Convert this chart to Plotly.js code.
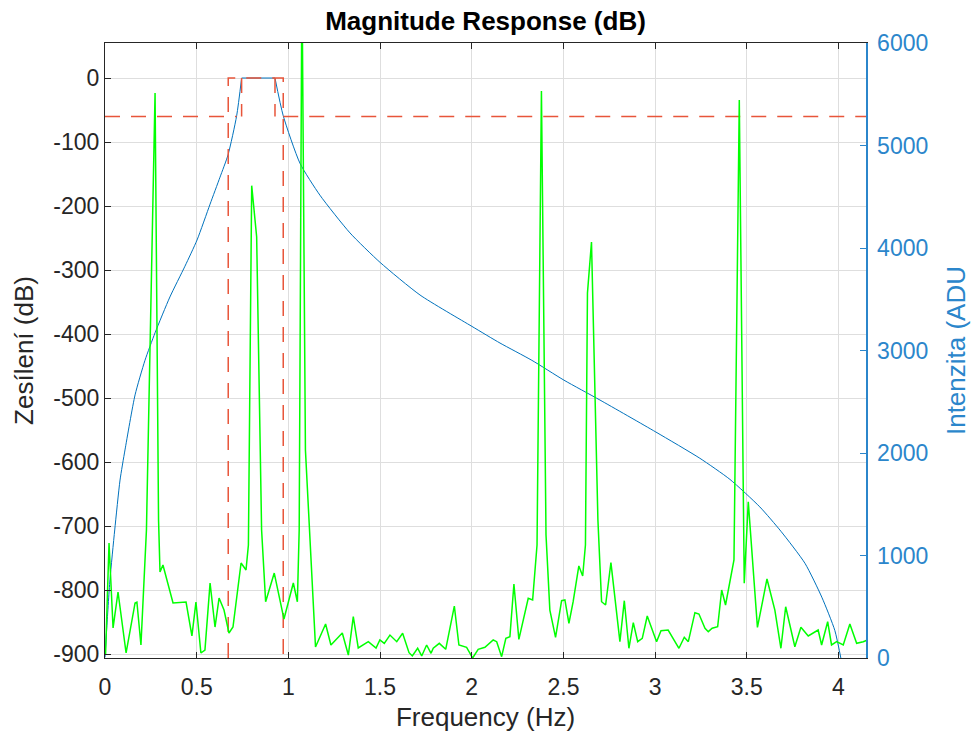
<!DOCTYPE html>
<html>
<head>
<meta charset="utf-8">
<script src="https://cdn.plot.ly/plotly-3.0.1.min.js"></script>
<style>html,body{margin:0;padding:0;background:#fff;}#chart{width:975px;height:740px;}</style>
</head>
<body>
<div id="chart"></div>
<script>
// Magnitude response of the filter (dB, left axis)
const respFreq = [0.000,0.009,0.027,0.053,0.082,0.109,0.164,0.218,0.273,0.354,0.436,0.502,0.573,0.627,0.671,0.718,0.745,
  0.927,0.972,1.063,1.172,1.336,1.500,1.718,2.001,2.154,2.328,2.503,2.699,3.004,3.244,3.408,3.571,3.686,3.817,3.909,3.980,4.017];
const respDb = [-905,-862,-784,-706,-628,-581,-495,-441,-398,-342,-294,-253,-197,-155,-120,-59,0,
  0,-59,-133,-183,-242,-288,-339,-388,-414,-441,-472,-503,-553,-594,-627,-670,-708,-758,-811,-863,-912];

// Signal spectrum (ADU, right axis)
const specFreq = [0.003,0.022,0.044,0.071,0.115,0.164,0.174,0.196,0.226,0.273,0.292,0.300,0.316,0.371,0.442,0.474,0.496,0.523,0.545,0.573,
  0.600,0.622,0.649,0.676,0.698,0.742,0.769,0.782,0.800,0.827,0.854,0.876,0.923,0.949,0.976,1.027,1.049,1.059,1.074,1.093,
  1.148,1.203,1.232,1.294,1.327,1.354,1.381,1.436,1.478,1.499,1.523,1.554,1.591,1.623,1.658,1.676,1.705,1.727,1.754,1.778,
  1.790,1.823,1.858,1.905,1.930,1.972,2.005,2.035,2.072,2.117,2.136,2.163,2.186,2.208,2.230,2.257,2.308,2.332,2.356,2.380,
  2.405,2.426,2.457,2.490,2.508,2.530,2.553,2.584,2.605,2.620,2.631,2.653,2.688,2.708,2.730,2.759,2.808,2.832,2.857,2.881,
  2.905,2.930,2.957,3.008,3.032,3.071,3.130,3.159,3.181,3.217,3.239,3.272,3.290,3.311,3.341,3.363,3.384,3.430,3.459,3.486,
  3.508,3.558,3.610,3.653,3.686,3.712,3.762,3.795,3.835,3.889,3.908,3.941,3.962,3.990,4.026,4.062,4.099,4.135,4.160];
const specAdu = [29,1122,293,644,49,537,546,127,1249,5512,1346,839,907,537,546,215,546,49,78,732,
  302,585,468,244,302,927,859,1102,4608,4110,1249,549,829,615,380,732,549,1249,6700,2029,
  107,332,127,244,29,403,98,159,98,176,143,224,159,241,52,20,95,20,127,46,
  95,143,85,507,127,104,0,85,104,176,159,13,192,208,722,182,582,566,1102,5532,
  1200,468,202,559,566,339,549,898,800,1102,3561,4058,1346,549,517,930,159,559,95,344,
  159,192,410,159,266,273,95,202,159,442,429,290,257,290,305,663,517,956,5444,729,
  1525,298,771,468,95,500,110,300,215,273,127,354,127,159,127,332,143,159,176];

// Filter specification mask (dB), segments separated by null
const maskFreq = [0, 0.718, null, 0.672, 0.672, 0.972, 0.972, null, 0.745, 0.745, null, 0.927, 0.927, null, 0.972, 4.15];
const maskDb   = [-60, -60, null, -906, 0, 0, -906, null, 0, -60, null, 0, -60, null, -60, -60];

const xTicks = [0, 0.5, 1, 1.5, 2, 2.5, 3, 3.5, 4];
const yTicks = [-900, -800, -700, -600, -500, -400, -300, -200, -100, 0];
const y2Ticks = [0, 1000, 2000, 3000, 4000, 5000, 6000];

const FONT = 'Liberation Sans, Arial, Helvetica, sans-serif';
const AX = '#262626';
const BLUE = '#0072bd';
const BLUEAX = '#2b86cb';

// passband edges split the response into rising flank, flat top and falling flank
const iTop1 = 16, iTop2 = 17;
const respLine = {color: BLUE, width: 1};
const traces = [
  {x: respFreq.slice(0, iTop1 + 1), y: respDb.slice(0, iTop1 + 1), type: 'scatter', mode: 'lines', yaxis: 'y',
   line: Object.assign({shape: 'spline', smoothing: 0.6}, respLine), hoverinfo: 'skip'},
  {x: respFreq.slice(iTop1, iTop2 + 1), y: respDb.slice(iTop1, iTop2 + 1), type: 'scatter', mode: 'lines', yaxis: 'y',
   line: respLine, hoverinfo: 'skip'},
  {x: respFreq.slice(iTop2), y: respDb.slice(iTop2), type: 'scatter', mode: 'lines', yaxis: 'y',
   line: Object.assign({shape: 'spline', smoothing: 0.6}, respLine), hoverinfo: 'skip'},
  {x: maskFreq, y: maskDb, type: 'scatter', mode: 'lines', yaxis: 'y', connectgaps: false,
   line: {color: '#e8553a', width: 1.5, dash: '15px,11px'}, hoverinfo: 'skip'},
  {x: specFreq, y: specAdu, type: 'scatter', mode: 'lines', yaxis: 'y2',
   line: {color: '#00ff00', width: 1.5}, hoverinfo: 'skip'}
];

const layout = {
  width: 975, height: 740,
  margin: {l: 105, r: 109, t: 43, b: 82, pad: 0},
  paper_bgcolor: '#ffffff', plot_bgcolor: '#ffffff',
  showlegend: false,
  font: {family: FONT, size: 24, color: AX},
  title: {text: '<b>Magnitude Response (dB)</b>', font: {family: FONT, size: 26, color: '#000'},
          x: 0.5, xref: 'paper', xanchor: 'center', y: 1 - 21/740, yref: 'container', yanchor: 'middle'},
  xaxis: {
    range: [0, 4.15], tickvals: xTicks, ticktext: xTicks.map(String),
    ticks: 'inside', ticklen: 6, tickcolor: AX, tickwidth: 1,
    showline: true, linecolor: AX, linewidth: 1, mirror: 'ticks',
    showgrid: true, gridcolor: '#dedede', gridwidth: 1, zeroline: false,
    ticklabelstandoff: 8,
    tickfont: {family: FONT, size: 23, color: AX},
    title: {text: 'Frequency (Hz)', font: {family: FONT, size: 26, color: AX}, standoff: 9}
  },
  yaxis: {
    range: [-906, 54.7], tickvals: yTicks, ticktext: yTicks.map(String),
    ticks: 'inside', ticklen: 6, tickcolor: AX, tickwidth: 1,
    showline: true, linecolor: AX, linewidth: 1, mirror: false,
    showgrid: true, gridcolor: '#dedede', gridwidth: 1, zeroline: false,
    tickfont: {family: FONT, size: 23, color: AX},
    title: {text: 'Zesílení (dB)', font: {family: FONT, size: 26, color: AX}, standoff: 12}
  },
  yaxis2: {
    overlaying: 'y', side: 'right', anchor: 'x',
    range: [0, 6000], tickvals: y2Ticks, ticktext: y2Ticks.map(String),
    ticks: 'inside', ticklen: 6, tickcolor: BLUEAX, tickwidth: 1,
    showline: true, linecolor: BLUEAX, linewidth: 1.5,
    showgrid: false, zeroline: false,
    ticklabelstandoff: 5,
    tickfont: {family: FONT, size: 23, color: BLUEAX},
    title: {text: 'Intenzita (ADU', font: {family: FONT, size: 26, color: BLUEAX}, standoff: 19}
  }
};

Plotly.newPlot('chart', traces, layout, {displayModeBar: false, staticPlot: true});
</script>
</body>
</html>
